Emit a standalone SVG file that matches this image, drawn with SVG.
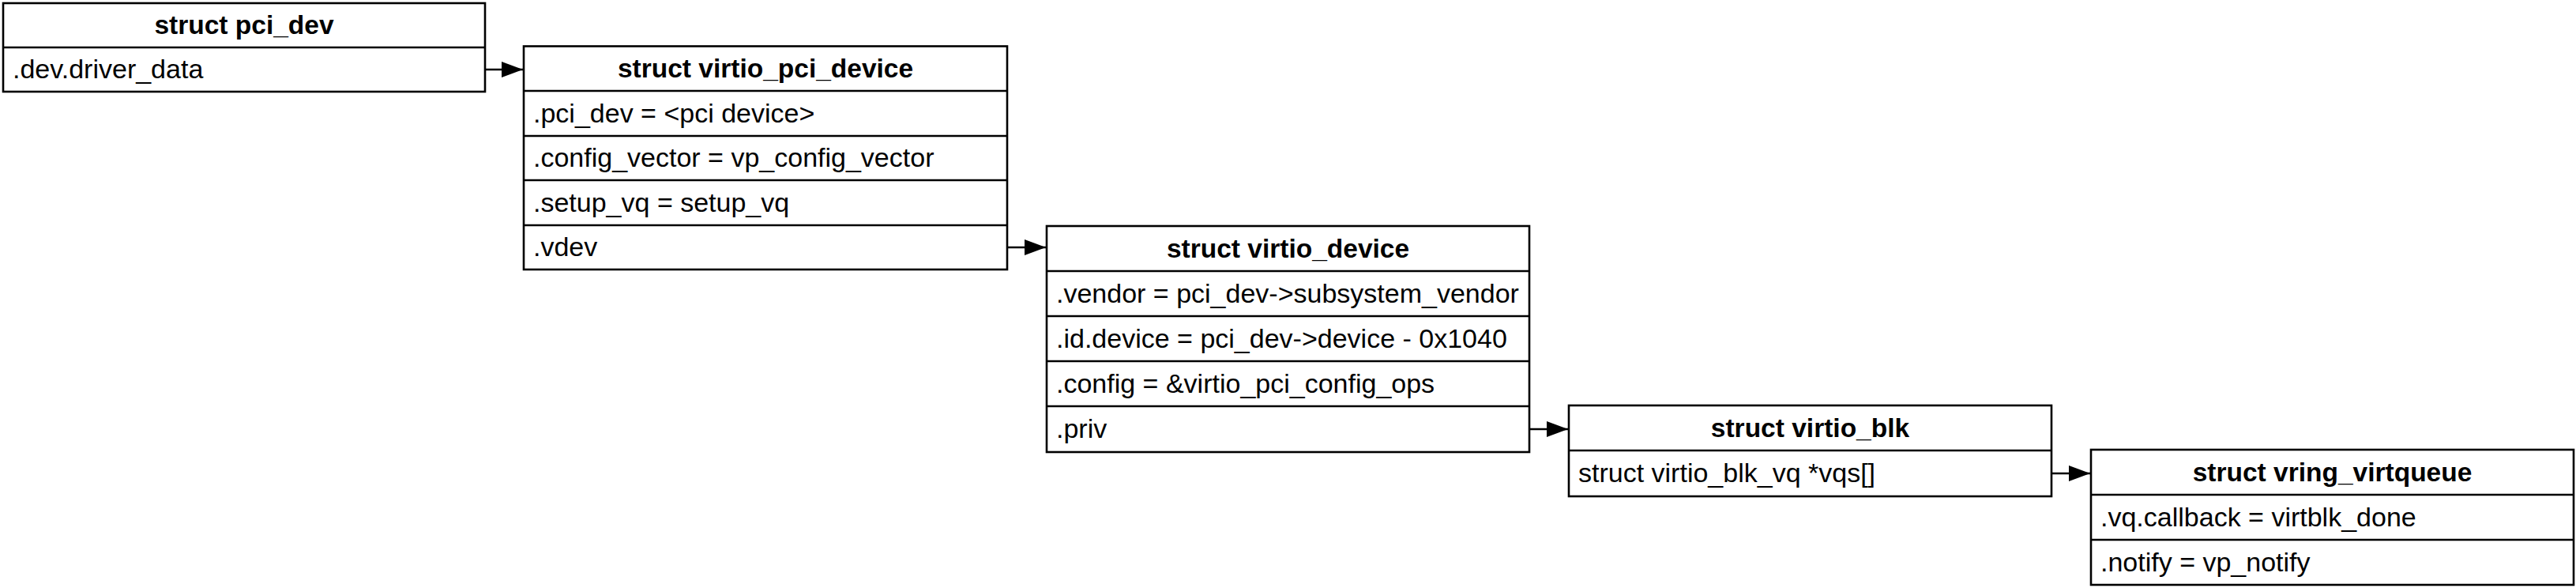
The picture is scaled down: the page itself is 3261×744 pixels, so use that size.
<svg xmlns="http://www.w3.org/2000/svg" width="3261" height="744" viewBox="0 0 3261 744">
<style>
.box{fill:#ffffff;stroke:#000000;stroke-width:2.6}
.div{stroke:#000000;stroke-width:2.6}
.h{font-family:"Liberation Sans",Arial,Helvetica,sans-serif;font-size:33.5px;font-weight:bold;text-anchor:middle;fill:#000}
.t{font-family:"Liberation Sans",Arial,Helvetica,sans-serif;font-size:34px;fill:#000}
.c{stroke:#000000;stroke-width:2.6;fill:none}
</style>
<defs>
<marker id="arr" viewBox="0 0 27 20" refX="27" refY="10" markerWidth="27" markerHeight="20" markerUnits="userSpaceOnUse" orient="auto">
<path d="M0,0 L27,10 L0,20 Z" fill="#000"/>
</marker>
</defs>
<rect width="3261" height="744" fill="#ffffff"/>

<g id="pci_dev">
<rect class="box" x="4" y="4" width="610" height="112"/>
<line class="div" x1="4" y1="60" x2="614" y2="60"/>
<text class="h" x="309" y="43">struct pci_dev</text>
<text class="t" x="16" y="99">.dev.driver_data</text>
</g>

<g id="virtio_pci_device">
<rect class="box" x="663" y="58.5" width="612" height="282.5"/>
<line class="div" x1="663" y1="115" x2="1275" y2="115"/>
<line class="div" x1="663" y1="172" x2="1275" y2="172"/>
<line class="div" x1="663" y1="228" x2="1275" y2="228"/>
<line class="div" x1="663" y1="285" x2="1275" y2="285"/>
<text class="h" x="969" y="98">struct virtio_pci_device</text>
<text class="t" x="675" y="155">.pci_dev = &lt;pci device&gt;</text>
<text class="t" x="675" y="211">.config_vector = vp_config_vector</text>
<text class="t" x="675" y="268">.setup_vq = setup_vq</text>
<text class="t" x="675" y="324">.vdev</text>
</g>

<g id="virtio_device">
<rect class="box" x="1325" y="286" width="611" height="286"/>
<line class="div" x1="1325" y1="343" x2="1936" y2="343"/>
<line class="div" x1="1325" y1="400" x2="1936" y2="400"/>
<line class="div" x1="1325" y1="457" x2="1936" y2="457"/>
<line class="div" x1="1325" y1="514" x2="1936" y2="514"/>
<text class="h" x="1630.5" y="326">struct virtio_device</text>
<text class="t" x="1337" y="383">.vendor = pci_dev-&gt;subsystem_vendor</text>
<text class="t" x="1337" y="440">.id.device = pci_dev-&gt;device - 0x1040</text>
<text class="t" x="1337" y="497">.config = &amp;virtio_pci_config_ops</text>
<text class="t" x="1337" y="554">.priv</text>
</g>

<g id="virtio_blk">
<rect class="box" x="1986" y="513" width="611" height="115"/>
<line class="div" x1="1986" y1="570" x2="2597" y2="570"/>
<text class="h" x="2291.5" y="553">struct virtio_blk</text>
<text class="t" x="1998" y="610">struct virtio_blk_vq *vqs[]</text>
</g>

<g id="vring_virtqueue">
<rect class="box" x="2647" y="569" width="611" height="171"/>
<line class="div" x1="2647" y1="626" x2="3258" y2="626"/>
<line class="div" x1="2647" y1="683" x2="3258" y2="683"/>
<text class="h" x="2952.5" y="609">struct vring_virtqueue</text>
<text class="t" x="2659" y="666">.vq.callback = virtblk_done</text>
<text class="t" x="2659" y="723">.notify = vp_notify</text>
</g>

<g id="connectors">
<line class="c" x1="614" y1="88" x2="662" y2="88" marker-end="url(#arr)"/>
<line class="c" x1="1275" y1="313" x2="1324" y2="313" marker-end="url(#arr)"/>
<line class="c" x1="1936" y1="543" x2="1985" y2="543" marker-end="url(#arr)"/>
<line class="c" x1="2597" y1="599" x2="2646" y2="599" marker-end="url(#arr)"/>
</g>
</svg>
